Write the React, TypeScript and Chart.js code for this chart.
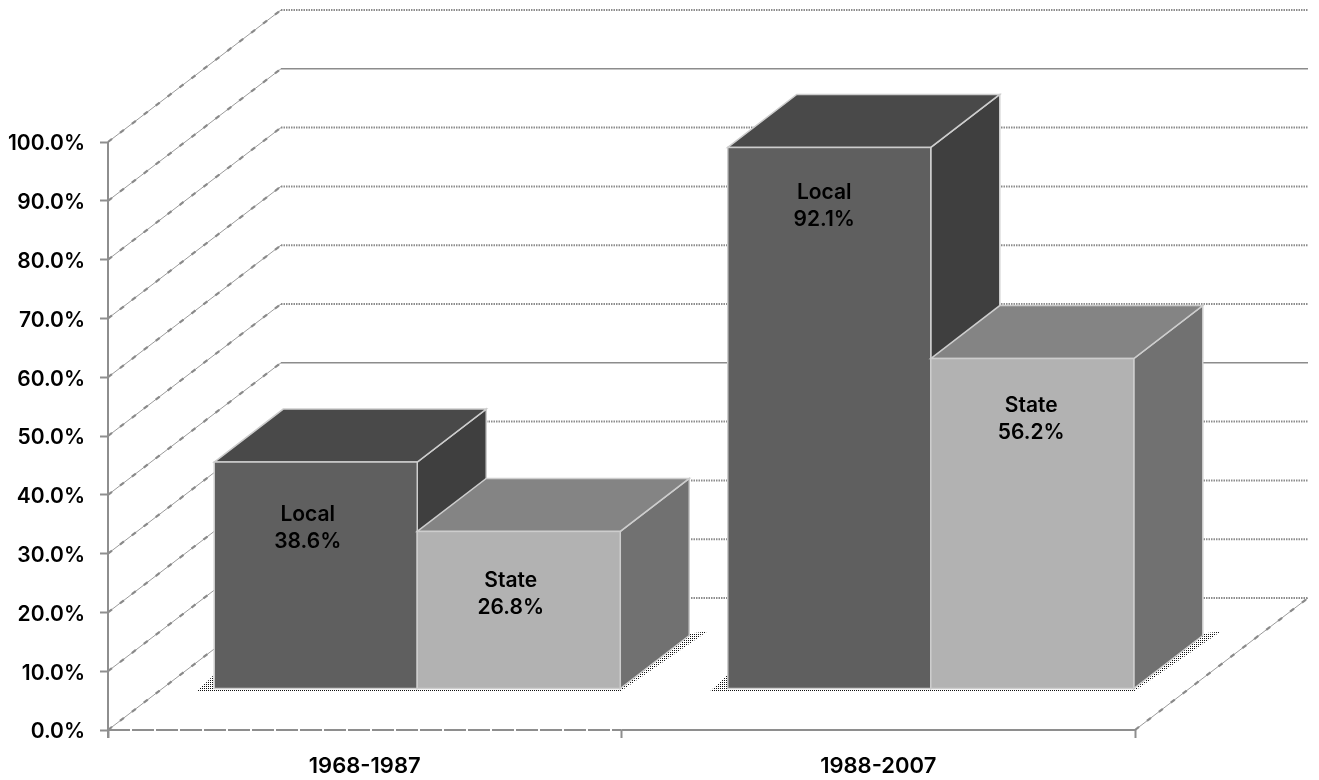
import React, { useEffect, useRef } from "react";
import { Chart, registerables } from "chart.js";

Chart.register(...registerables);

const categories = ["1968-1987", "1988-2007"];
const localValues = [38.6, 92.1];
const stateValues = [26.8, 56.2];
const seriesNames = ["Local", "State"];
const solidWalls = [40, 90];

const FONT = "Inter, sans-serif";
const FONT_SIZE = 21;
const W = 1319, H = 780;
const LEFT = 108, RIGHT = 1135, TOP = 142, BOTTOM = 730;
const BAR_DX = 52.5, BAR_DY = -41;
const DEPTH_X = 69, DEPTH_Y = -53;
const WALL_X = 173, WALL_Y = -132;
const COLORS = [
  { front: "#5f5f5f", top: "#494949", side: "#3f3f3f" },
  { front: "#b2b2b2", top: "#848484", side: "#717171" },
];
const EDGE = "#cdcdcd";
const LINE = "#8e8e8e";
// label nudges [dx, drop below bar top], per series then per category
const labelNudge = [
  [[-8, 66], [-5, 59]],
  [[-8, 63], [-1, 61]],
];

function poly(ctx: CanvasRenderingContext2D, pts: number[][], fill: string | CanvasPattern, stroke?: string) {
  ctx.beginPath();
  pts.forEach((p, i) => (i ? ctx.lineTo(p[0], p[1]) : ctx.moveTo(p[0], p[1])));
  ctx.closePath();
  ctx.fillStyle = fill;
  ctx.fill();
  if (stroke) {
    ctx.strokeStyle = stroke;
    ctx.lineWidth = 1.5;
    ctx.stroke();
  }
}

function bumpyLine(ctx: CanvasRenderingContext2D, x0: number, y0: number, x1: number, y1: number) {
  ctx.save();
  ctx.strokeStyle = "#9a9a9a";
  ctx.lineWidth = 1;
  ctx.beginPath(); ctx.moveTo(x0, y0); ctx.lineTo(x1, y1); ctx.stroke();
  ctx.strokeStyle = "#8a8a8a";
  ctx.lineWidth = 2.2;
  ctx.setLineDash([5, 10]);
  ctx.beginPath(); ctx.moveTo(x0, y0); ctx.lineTo(x1, y1); ctx.stroke();
  ctx.restore();
}

function dotPattern(ctx: CanvasRenderingContext2D) {
  const c = document.createElement("canvas");
  c.width = 2; c.height = 2;
  const g = c.getContext("2d")!;
  g.fillStyle = "#111";
  g.fillRect(0, 0, 1, 1);
  return ctx.createPattern(c, "repeat")!;
}

const scene3d = {
  id: "scene3d",
  beforeDatasetsDraw(chart: any) {
    const { ctx, chartArea: a, scales } = chart;
    const yS = scales.y;
    ctx.save();
    // walls
    for (let v = 0; v <= 100; v += 10) {
      const y = yS.getPixelForValue(v);
      bumpyLine(ctx, a.left, y, a.left + WALL_X, y + WALL_Y);
      const solid = solidWalls.includes(v);
      ctx.strokeStyle = "#8c8c8c";
      ctx.lineWidth = solid ? 1.5 : 2;
      ctx.setLineDash(solid ? [] : [1.5, 1]);
      ctx.beginPath();
      ctx.moveTo(a.left + WALL_X, y + WALL_Y);
      ctx.lineTo(a.right + WALL_X, y + WALL_Y);
      ctx.stroke();
      ctx.setLineDash([]);
    }
    // floor edges
    bumpyLine(ctx, a.right, a.bottom, a.right + WALL_X, a.bottom + WALL_Y);
    const mid = (a.left + a.right) / 2;
    ctx.strokeStyle = LINE;
    ctx.lineWidth = 2;
    ctx.setLineDash([22, 2]);
    ctx.beginPath(); ctx.moveTo(a.left, a.bottom); ctx.lineTo(mid, a.bottom); ctx.stroke();
    ctx.setLineDash([]);
    ctx.beginPath(); ctx.moveTo(mid, a.bottom); ctx.lineTo(a.right, a.bottom); ctx.stroke();
    ctx.beginPath(); ctx.moveTo(a.left, TOP); ctx.lineTo(a.left, a.bottom + 8); ctx.stroke();

    // contact shadows
    const pat = dotPattern(ctx);
    const m0 = chart.getDatasetMeta(0), m1 = chart.getDatasetMeta(1);
    m0.data.forEach((el: any, i: number) => {
      const r = m1.data[i];
      const x0 = el.x - el.width / 2 + BAR_DX;
      const x1 = r.x + r.width / 2 + BAR_DX;
      const b = el.base + BAR_DY;
      ctx.fillStyle = pat;
      ctx.fillRect(x0 - 1, b + 1, x1 - x0 + 2, 2);
      poly(ctx, [[x1, b + 3], [x1 + DEPTH_X + 18, b + DEPTH_Y - 4], [x1 + DEPTH_X, b + DEPTH_Y - 2], [x1, b]], pat);
      poly(ctx, [[x0 - 18, b + 3], [x0, b + 3], [x0, b - 14], [x0 - 6, b - 8]], pat);
    });
    ctx.restore();
  },
  // The library paints datasets last-to-first; Local must go under State here.
  beforeDatasetDraw() {
    return false;
  },
  afterDatasetsDraw(chart: any) {
    const { ctx } = chart;
    [0, 1].forEach((d) => {
      const meta = chart.getDatasetMeta(d);
      const c = COLORS[d];
      ctx.save();
      ctx.translate(BAR_DX, BAR_DY);
      meta.data.forEach((el: any) => {
        const l = el.x - el.width / 2, r = el.x + el.width / 2, t = el.y, b = el.base;
        poly(ctx, [[r, t], [r + DEPTH_X, t + DEPTH_Y], [r + DEPTH_X, b + DEPTH_Y], [r, b]], c.side, EDGE);
        poly(ctx, [[l, t], [l + DEPTH_X, t + DEPTH_Y], [r + DEPTH_X, t + DEPTH_Y], [r, t]], c.top, EDGE);
      });
      meta.controller.draw();
      meta.data.forEach((el: any) => {
        ctx.strokeStyle = EDGE;
        ctx.lineWidth = 1.5;
        ctx.strokeRect(el.x - el.width / 2, el.y, el.width, el.base - el.y);
      });
      ctx.restore();
    });
    ctx.save();
    ctx.fillStyle = "#000";
    ctx.font = `600 ${FONT_SIZE}px ${FONT}`;
    ctx.textAlign = "center";
    ctx.textBaseline = "middle";
    [0, 1].forEach((d) => {
      const vals = chart.data.datasets[d].data;
      chart.getDatasetMeta(d).data.forEach((el: any, i: number) => {
        const [dx, drop] = labelNudge[d][i];
        const x = el.x + BAR_DX + dx;
        const y = el.y + BAR_DY + drop;
        ctx.fillText(seriesNames[d], x, y - 13.5);
        ctx.fillText(`${vals[i].toFixed(1)}%`, x, y + 13.5);
      });
    });
    ctx.restore();
  },
};

export default function App() {
  const ref = useRef<HTMLCanvasElement>(null);
  useEffect(() => {
    const chart = new Chart(ref.current!, {
      type: "bar",
      data: {
        labels: categories,
        datasets: [
          { label: seriesNames[0], data: localValues, backgroundColor: COLORS[0].front, borderColor: EDGE, borderWidth: 0, clip: false },
          { label: seriesNames[1], data: stateValues, backgroundColor: COLORS[1].front, borderColor: EDGE, borderWidth: 0, clip: false },
        ],
      } as any,
      options: {
        responsive: false,
        animation: false,
        events: [],
        layout: { padding: { top: TOP, right: W - RIGHT, left: 0, bottom: 0 } },
        plugins: { legend: { display: false }, tooltip: { enabled: false }, title: { display: false } },
        datasets: { bar: { barPercentage: 1, categoryPercentage: 0.7907 } },
        scales: {
          x: {
            offset: true,
            grid: { offset: true, drawOnChartArea: false, tickLength: 8, tickColor: LINE, tickWidth: 2 },
            border: { display: false },
            ticks: { color: "#000", font: { family: FONT, size: 22, weight: "600" }, padding: 15, maxRotation: 0 },
            afterFit: (s: any) => { s.height = H - BOTTOM; },
          },
          y: {
            min: 0,
            max: 100,
            grid: { drawOnChartArea: false, tickLength: 8, tickColor: LINE, tickWidth: 2 },
            border: { display: false },
            ticks: {
              stepSize: 10,
              color: "#000",
              padding: 15,
              labelOffset: 2,
              font: { family: FONT, size: FONT_SIZE, weight: "600" },
              callback: (v: any) => `${Number(v).toFixed(1)}%`,
            },
            afterFit: (s: any) => { s.width = LEFT; },
          },
        },
      } as any,
      plugins: [scene3d as any],
    });
    return () => chart.destroy();
  }, []);
  return (
    <div style={{ position: "fixed", left: 0, top: 0, width: W, height: H, background: "#fff" }}>
      <canvas ref={ref} width={W} height={H} style={{ display: "block" }} />
    </div>
  );
}
